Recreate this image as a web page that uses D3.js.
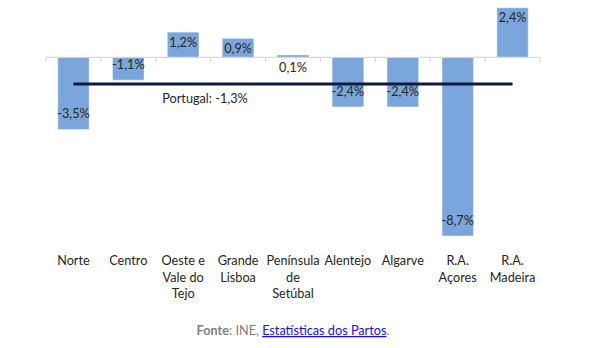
<!DOCTYPE html>
<html>
<head>
<meta charset="utf-8">
<script src="https://cdn.jsdelivr.net/npm/d3@7"></script>
<style>
  html, body { margin: 0; padding: 0; background: #fff; }
  svg { display: block; }
</style>
</head>
<body>
<svg id="chart" width="591" height="348"></svg>
<script>
const categories = ["Norte", "Centro", "Oeste e Vale do Tejo", "Grande Lisboa", "Península de Setúbal", "Alentejo", "Algarve", "R.A. Açores", "R.A. Madeira"];
const values = [-3.5, -1.1, 1.2, 0.9, 0.1, -2.4, -2.4, -8.7, 2.4];
const tickLabels = [["Norte"], ["Centro"], ["Oeste e", "Vale do", "Tejo"], ["Grande", "Lisboa"], ["Península", "de", "Setúbal"], ["Alentejo"], ["Algarve"], ["R.A.", "Açores"], ["R.A.", "Madeira"]];
const portugalValue = -1.3;
const portugalLabel = "Portugal: -1,3%";

const fmt = v => d3.format(".1f")(v).replace(".", ",").replace("−", "-") + "%";
const FONT = "Lato, 'Open Sans', sans-serif";
const FS = 12.7;

const svg = d3.select("#chart");
const x = d3.scaleBand().domain(categories).range([46, 540]).paddingInner(0.44).paddingOuter(0.22);
const y = d3.scaleLinear().domain([-9, 3]).range([57.3 + 9 * 20.5, 57.3 - 3 * 20.5]);
const y0 = y(0);

// bars
svg.append("g").selectAll("rect").data(categories).join("rect")
  .attr("x", d => x(d))
  .attr("width", x.bandwidth())
  .attr("y", (d, i) => Math.min(y(values[i]), y0))
  .attr("height", (d, i) => Math.abs(y(values[i]) - y0))
  .attr("fill", "#7aa6dc")
  .attr("stroke", "#8fb4e2")
  .attr("stroke-width", 0.6);

// axis line and ticks
const axis = svg.append("g");
axis.append("line").attr("x1", 46).attr("x2", 540).attr("y1", y0).attr("y2", y0)
  .attr("stroke", "#d9d9d9").attr("stroke-width", 1.2);
const bounds = d3.range(categories.length + 1).map(i => 46 + i * (494 / categories.length));
axis.selectAll("line.tick").data(bounds).join("line").attr("class", "tick")
  .attr("x1", d => d).attr("x2", d => d).attr("y1", y0).attr("y2", y0 + 5)
  .attr("stroke", "#d9d9d9").attr("stroke-width", 1.2);

// Portugal line
const cx = d => x(d) + x.bandwidth() / 2;
svg.append("line")
  .attr("x1", cx(categories[0])).attr("x2", cx(categories[categories.length - 1]))
  .attr("y1", y(portugalValue)).attr("y2", y(portugalValue))
  .attr("stroke", "#0b1a3e").attr("stroke-width", 3);

svg.append("text").attr("x", 205).attr("y", y(portugalValue) + 16)
  .attr("text-anchor", "middle").attr("dominant-baseline", "middle")
  .attr("font-family", FONT).attr("font-size", FS).attr("fill", "#262626")
  .text(portugalLabel);

// value labels
svg.append("g").selectAll("text").data(categories).join("text")
  .attr("x", d => cx(d))
  .attr("y", (d, i) => {
    const v = values[i];
    if (v >= 0) return (y0 - y(v) >= 12) ? y(v) + 11 : y0 + 11;
    return y(v) - 14;
  })
  .attr("text-anchor", "middle").attr("dominant-baseline", "middle")
  .attr("font-family", FONT).attr("font-size", FS).attr("fill", "#262626")
  .text((d, i) => fmt(values[i]));

// category labels
const cl = svg.append("g").selectAll("text").data(categories).join("text")
  .attr("x", d => cx(d))
  .attr("y", 262)
  .attr("text-anchor", "middle").attr("dominant-baseline", "middle")
  .attr("font-family", FONT).attr("font-size", FS).attr("fill", "#262626");
cl.selectAll("tspan").data((d, i) => tickLabels[i]).join("tspan")
  .attr("x", function() { return d3.select(this.parentNode).attr("x"); })
  .attr("dy", (d, j) => j === 0 ? 0 : 16.5)
  .text(d => d);

// source
const src = svg.append("text").attr("x", 293).attr("y", 332)
  .attr("text-anchor", "middle").attr("dominant-baseline", "middle")
  .attr("font-family", FONT).attr("font-size", FS).attr("fill", "#7f7f7f");
src.append("tspan").attr("font-weight", "bold").text("Fonte");
src.append("tspan").text(": INE, ");
src.append("tspan").attr("fill", "#1a0dff").attr("text-decoration", "underline").text("Estatísticas dos Partos");
src.append("tspan").text(".");
</script>
</body>
</html>
